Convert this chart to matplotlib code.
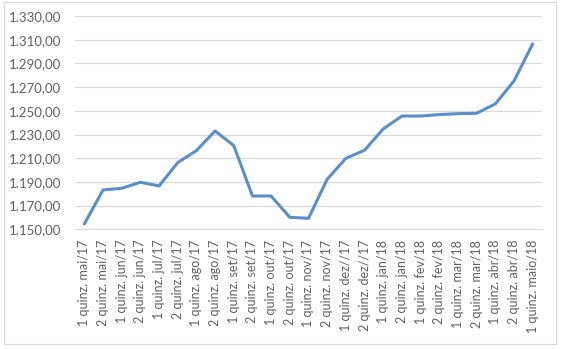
import matplotlib
matplotlib.use("Agg")
import matplotlib.pyplot as plt
from matplotlib.patches import Rectangle
from matplotlib.ticker import FuncFormatter

categories = ["1 quinz. mai/17", "2 quinz. mai/17", "1 quinz. jun/17", "2 quinz. jun/17",
              "1 quinz. jul/17", "2 quinz. jul/17", "1 quinz. ago/17", "2 quinz. ago/17",
              "1 quinz. set/17", "2 quinz. set/17", "1 quinz. out/17", "2 quinz. out/17",
              "1 quinz. nov/17", "2 quinz. nov/17", "1 quinz. dez//17", "2 quinz. dez//17",
              "1 quinz. jan/18", "2 quinz. jan/18", "1 quinz. fev/18", "2 quinz. fev/18",
              "1 quinz. mar/18", "2 quinz. mar/18", "1 quinz. abr/18", "2 quinz. abr/18",
              "1 quinz. maio/18"]
values = [1154.5, 1183.2, 1184.6, 1189.7, 1186.6, 1206.3, 1216.4, 1233.0, 1220.6,
          1178.1, 1178.1, 1160.1, 1159.3, 1192.2, 1209.9, 1216.7, 1234.7, 1245.6,
          1245.6, 1246.8, 1247.6, 1247.9, 1255.8, 1275.2, 1306.4]
yticks = [1150, 1170, 1190, 1210, 1230, 1250, 1270, 1290, 1310, 1330]

plt.rcParams['font.family'] = ['Lato', 'DejaVu Sans']

fig = plt.figure(figsize=(5.61, 3.49), dpi=100)
ax = fig.add_axes([75/561, 1 - 229.3/349, (542 - 75)/561, (229.3 - 16)/349])

x = list(range(len(categories)))
ax.plot(x, values, color="#5B8FC7", linewidth=2.2, solid_joinstyle="round", solid_capstyle="round")

ax.set_xlim(-0.5, len(categories) - 0.5)
ax.set_ylim(1150, 1330)
ax.set_yticks(yticks)

def fmt(v, pos):
    s = f"{v:,.2f}"
    return s.replace(",", "X").replace(".", ",").replace("X", ".")
ax.yaxis.set_major_formatter(FuncFormatter(fmt))

ax.set_xticks(x)
ax.set_xticklabels(categories, rotation=90)
ax.tick_params(axis="x", length=0, pad=7.5, labelsize=9, colors="#606060")
ax.tick_params(axis="y", length=0, pad=10, labelsize=9.5, colors="#606060")

ax.grid(axis="y", color="#D9D9D9", linewidth=0.8)
ax.set_axisbelow(True)
for s in ["top", "right", "left"]:
    ax.spines[s].set_visible(False)
ax.spines["bottom"].set_color("#D9D9D9")
ax.spines["bottom"].set_linewidth(0.8)

fig.patches.append(Rectangle((4/561, 1 - 344/349), (556 - 4)/561, (344 - 2)/349,
                             transform=fig.transFigure, fill=False,
                             edgecolor="#D9D9D9", linewidth=0.8))

fig.savefig("out.png", dpi=100)
